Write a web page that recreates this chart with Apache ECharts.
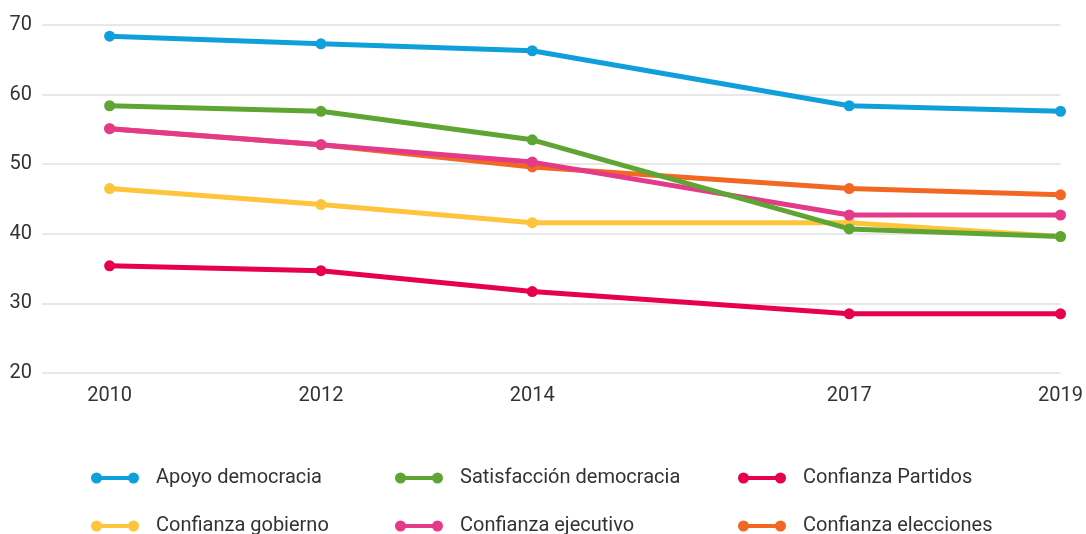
<!DOCTYPE html>
<html>
<head>
<meta charset="utf-8">
<script src="https://cdn.jsdelivr.net/npm/echarts@6/dist/echarts.min.js"></script>
<style>
  html, body { margin: 0; padding: 0; background: #fff; }
  #chart { width: 1086px; height: 534px; }
</style>
</head>
<body>
<div id="chart"></div>
<script>
const years = [2010, 2012, 2014, 2017, 2019]
const yTicks = [20, 30, 40, 50, 60, 70]

const apoyoDemocracia = [68.4, 67.3, 66.3, 58.4, 57.6]
const satisfaccionDemocracia = [58.4, 57.6, 53.5, 40.7, 39.6]
const confianzaPartidos = [35.4, 34.7, 31.7, 28.5, 28.5]
const confianzaGobierno = [46.5, 44.2, 41.6, 41.6, 39.6]
const confianzaEjecutivo = [55.1, 52.8, 50.3, 42.7, 42.7]
const confianzaElecciones = [55.1, 52.8, 49.6, 46.5, 45.6]

const font = 'Roboto'
const legendIcon = 'path://M0,6A5.5,5.5 0 1,1 11,6A5.5,5.5 0 1,1 0,6ZM37,6A5.5,5.5 0 1,1 48,6A5.5,5.5 0 1,1 37,6ZM5,4L43,4L43,8L5,8Z'

const chart = echarts.init(document.getElementById('chart'))

// orden de dibujo: las últimas quedan encima
const seriesDefs = [
  { name: 'Confianza gobierno', data: confianzaGobierno, color: '#fdc43c' },
  { name: 'Confianza elecciones', data: confianzaElecciones, color: '#f26822' },
  { name: 'Confianza ejecutivo', data: confianzaEjecutivo, color: '#e33a89' },
  { name: 'Satisfacción democracia', data: satisfaccionDemocracia, color: '#5fa533' },
  { name: 'Confianza Partidos', data: confianzaPartidos, color: '#e6004e' },
  { name: 'Apoyo democracia', data: apoyoDemocracia, color: '#0fa0dc' }
]

// posición de cada entrada de la leyenda (3 columnas x 2 filas)
const legendSlots = [
  { name: 'Apoyo democracia', left: 86, top: 463 },
  { name: 'Satisfacción democracia', left: 390, top: 463 },
  { name: 'Confianza Partidos', left: 733, top: 463 },
  { name: 'Confianza gobierno', left: 86, top: 511 },
  { name: 'Confianza ejecutivo', left: 390, top: 511 },
  { name: 'Confianza elecciones', left: 733, top: 511 }
]

const option = {
  animation: false,
  grid: { left: 42, right: 25, top: 25, bottom: 161 },
  legend: legendSlots.map(l => ({
    left: l.left,
    top: l.top,
    data: [l.name],
    itemWidth: 48,
    itemHeight: 12,
    icon: legendIcon,
    textStyle: { fontFamily: font, fontSize: 20, color: '#333', padding: [0, 0, 0, 12] }
  })),
  xAxis: {
    type: 'value',
    min: 2009.36,
    max: 2019,
    axisLine: { show: false },
    axisTick: { show: false },
    splitLine: { show: false },
    axisLabel: {
      customValues: years,
      margin: 13,
      fontFamily: font,
      fontSize: 20,
      color: '#333',
      formatter: v => String(v)
    }
  },
  yAxis: {
    type: 'value',
    min: 20,
    max: 70,
    interval: 10,
    axisLine: { show: false },
    axisTick: { show: false },
    splitLine: { lineStyle: { color: '#e8e8e8', width: 2 } },
    axisLabel: {
      margin: 10,
      fontFamily: font,
      fontSize: 20,
      color: '#333',
      formatter: v => yTicks.includes(v) ? String(v) : ''
    }
  },
  series: seriesDefs.map(s => ({
    name: s.name,
    type: 'line',
    data: years.map((y, i) => [y, s.data[i]]),
    symbol: 'circle',
    symbolSize: 11,
    lineStyle: { width: 5, color: s.color },
    itemStyle: { color: s.color }
  }))
}

chart.setOption(option)
</script>
</body>
</html>
